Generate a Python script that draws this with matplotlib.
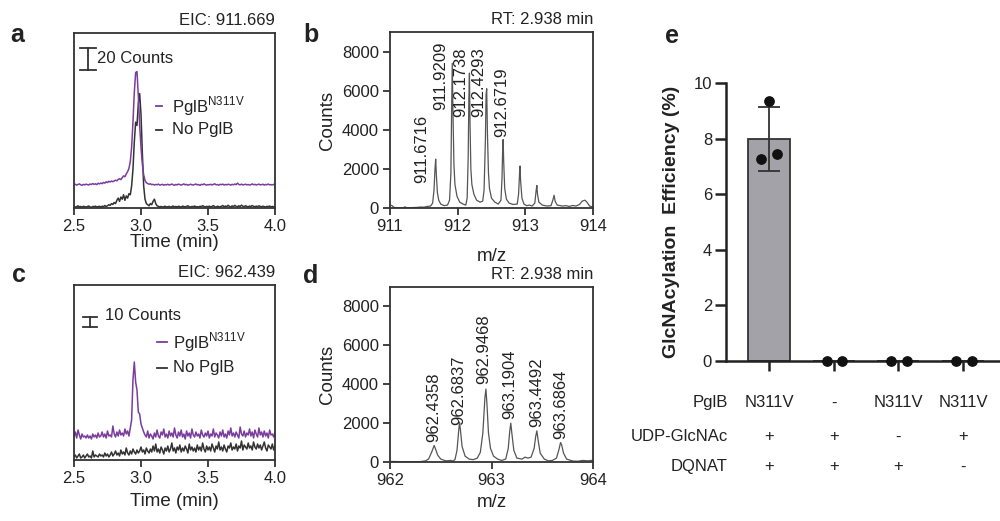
import numpy as np
import matplotlib
matplotlib.use("Agg")
import matplotlib.pyplot as plt

plt.rcParams['font.family'] = ['Liberation Sans', 'DejaVu Sans']
plt.rcParams['mathtext.fontset'] = 'custom'
plt.rcParams['mathtext.rm'] = 'Liberation Sans'

# ---------------- data ----------------
time = np.round(np.arange(2.5, 4.0001, 0.01), 2)

# panel a, EIC 911.669 (counts)
pglb_a = [1.0, 1.6, 0.8, 1.3, 1.9, 1.1, 0.6, 1.5, 1.0, 1.7,
          1.2, 0.9, 1.8, 1.4, 2.2, 1.5, 2.0, 1.3, 2.5, 1.9,
          2.7, 2.1, 3.2, 2.6, 3.8, 3.1, 4.3, 3.6, 4.5, 3.9,
          4.6, 5.3, 4.7, 6.0, 6.6, 5.8, 7.6, 9.2, 8.4, 11.0,
          13.0, 16.0, 22.0, 35.0, 58.0, 85.0, 103.0, 104.0, 82.0, 55.0,
          35.0, 20.0, 10.0, 5.0, 3.0, 2.2, 1.6, 2.0, 1.2, 1.5,
          0.9, 1.4, 1.1, 1.7, 0.8, 1.2, 1.5, 0.7, 1.3, 1.0,
          1.6, 0.9, 1.2, 1.8, 1.1, 0.6, 1.4, 1.0, 1.7, 1.2,
          0.8, 1.3, 1.9, 1.0, 1.5, 0.7, 1.2, 1.6, 1.1, 0.9,
          1.4, 1.8, 1.0, 1.3, 0.6, 1.5, 1.1, 1.9, 1.2, 0.8,
          1.3, 1.0, 1.6, 0.9, 1.4, 2.0, 1.1, 1.3, 0.7, 1.5,
          1.2, 1.7, 0.9, 1.4, 1.0, 1.6, 1.3, 0.8, 1.5, 1.1,
          1.8, 1.2, 2.6, 1.4, 1.0, 1.7, 0.9, 1.3, 1.6, 1.0,
          1.4, 0.8, 1.2, 1.9, 1.1, 1.5, 0.9, 1.3, 1.7, 1.0,
          1.2, 1.6, 0.8, 1.4, 1.1, 1.8, 1.0, 1.3, 0.9, 1.5, 1.2]
nopglb_a = [1.5, 0.8, 1.2, 2.0, 1.0, 1.4, 0.7, 1.6, 1.1, 0.9,
            1.3, 1.8, 1.0, 0.6, 1.4, 1.2, 1.7, 0.9, 1.3, 1.5,
            1.0, 1.6, 1.2, 2.2, 1.4, 2.0, 3.0, 2.4, 4.0, 3.2,
            5.0, 4.0, 7.0, 9.0, 6.0, 10.0, 8.0, 12.0, 7.0, 11.0,
            9.0, 13.0, 12.0, 20.0, 35.0, 60.0, 78.0, 75.0, 95.0, 104.0,
            85.0, 50.0, 20.0, 8.0, 4.0, 3.0, 2.0, 4.0, 3.0, 6.0,
            8.0, 4.0, 2.0, 1.5, 1.0, 1.4, 0.8, 1.2, 1.6, 0.9,
            1.1, 1.5, 0.7, 1.3, 1.8, 1.0, 1.4, 0.9, 1.6, 1.2,
            0.8, 1.7, 1.3, 1.0, 1.5, 2.0, 1.1, 0.9, 1.4, 1.2,
            1.8, 1.0, 1.3, 0.7, 1.6, 1.2, 2.1, 1.4, 0.9, 1.5,
            1.1, 1.7, 1.0, 1.4, 2.2, 1.2, 0.8, 1.6, 1.3, 1.0,
            1.5, 2.3, 1.1, 1.8, 1.2, 2.5, 1.4, 1.0, 1.9, 1.3,
            2.4, 1.5, 1.1, 2.0, 1.3, 2.6, 1.6, 1.2, 2.1, 1.4,
            1.0, 1.8, 1.3, 2.2, 1.5, 1.1, 1.7, 1.2, 2.0, 1.4,
            1.1, 1.6, 1.3, 0.9, 1.5, 1.2, 1.8, 1.0, 1.4, 1.1, 1.3]

# panel c, EIC 962.439 (counts)
pglb_c = [3, 8, 2, 10, 5, 1, 6, 3, 4, 2,
          5, 2, 4, 1, 6, 3, 5, 2, 7, 3,
          4, 8, 3, 6, 2, 9, 4, 5, 3, 14,
          6, 3, 8, 4, 10, 5, 7, 4, 11, 6,
          9, 4, 12, 20, 60, 78, 58, 50, 28, 26,
          16, 12, 8, 5, 3, 9, 2, 6, 4, 1,
          7, 3, 10, 4, 2, 8, 5, 11, 3, 6,
          2, 9, 4, 7, 3, 12, 5, 2, 8, 4,
          10, 3, 6, 1, 9, 4, 7, 2, 11, 5,
          3, 8, 4, 6, 2, 10, 5, 3, 7, 4,
          9, 2, 6, 4, 11, 3, 7, 5, 2, 8,
          4, 10, 3, 6, 2, 9, 5, 12, 4, 7,
          3, 8, 5, 2, 13, 6, 4, 9, 3, 7,
          5, 11, 4, 8, 2, 10, 6, 3, 12, 5,
          8, 3, 9, 4, 7, 2, 10, 5, 6, 3, 8]
nopglb_c = [3, 5, 2, 4, 6, 2, 3, 5, 2, 4,
            6, 3, 4, 2, 9, 3, 5, 4, 3, 6,
            4, 5, 3, 7, 4, 6, 3, 5, 8, 4,
            6, 9, 5, 7, 4, 10, 6, 8, 5, 12,
            7, 5, 9, 6, 11, 8, 6, 10, 7, 9,
            13, 8, 10, 6, 12, 9, 7, 11, 8, 14,
            9, 16, 8, 11, 7, 13, 10, 6, 12, 9,
            14, 8, 11, 17, 9, 12, 7, 13, 10, 15,
            8, 12, 9, 14, 11, 7, 16, 10, 13, 9,
            12, 8, 15, 10, 13, 9, 17, 11, 8, 14,
            10, 13, 9, 16, 12, 8, 14, 11, 18, 10,
            13, 9, 15, 11, 8, 14, 12, 17, 10, 13,
            11, 16, 9, 14, 12, 19, 10, 15, 13, 11,
            17, 12, 14, 10, 18, 13, 11, 16, 12, 15,
            10, 14, 18, 12, 9, 15, 13, 11, 16, 10, 14]

# panel b, mass spectrum at RT 2.938 min
mz_b = [911.00, 911.03, 911.06, 911.10, 911.20, 911.22, 911.25, 911.40, 911.45, 911.50,
        911.55, 911.60, 911.63, 911.65, 911.665, 911.675, 911.685, 911.70, 911.72, 911.75,
        911.80, 911.85, 911.88, 911.90, 911.91, 911.92, 911.93, 911.945, 911.96, 911.99,
        912.03, 912.08, 912.12, 912.14, 912.155, 912.165, 912.174, 912.183, 912.195, 912.21,
        912.24, 912.28, 912.33, 912.37, 912.39, 912.41, 912.42, 912.429, 912.44, 912.455,
        912.47, 912.50, 912.55, 912.60, 912.64, 912.655, 912.665, 912.672, 912.68, 912.695,
        912.72, 912.76, 912.82, 912.88, 912.90, 912.915, 912.922, 912.93, 912.95, 912.98,
        913.02, 913.06, 913.10, 913.14, 913.16, 913.17, 913.18, 913.20, 913.25, 913.32,
        913.38, 913.41, 913.425, 913.44, 913.47, 913.55, 913.60, 913.65, 913.70, 913.75,
        913.80, 913.84, 913.88, 913.91, 913.95, 914.00]
int_b = [150, 120, 30, 20, 10, 60, 10, 30, 50, 40,
         80, 100, 250, 900, 2000, 2500, 1700, 800, 400, 200,
         120, 150, 400, 1800, 4800, 7400, 5000, 2200, 1200, 600,
         300, 200, 150, 500, 2500, 5500, 6900, 4200, 2000, 1200,
         700, 400, 300, 350, 900, 3500, 5800, 6100, 3800, 1800,
         1000, 500, 300, 200, 400, 1500, 3000, 3500, 2400, 1000,
         450, 250, 180, 200, 700, 1800, 2150, 1400, 500, 200,
         120, 150, 100, 250, 900, 1150, 700, 300, 150, 100,
         120, 450, 650, 350, 150, 100, 120, 80, 130, 100,
         180, 350, 400, 300, 100, 50]
peaks_b = ['911.6716', '911.9209', '912.1738', '912.4293', '912.6719']
label_x_b = [911.47, 911.75, 912.05, 912.31, 912.65]
label_y_b = [1260, 5010, 4670, 4670, 3650]

# panel d, mass spectrum at RT 2.938 min
mz_d = [962.00, 962.10, 962.20, 962.30, 962.35, 962.38, 962.41, 962.435, 962.45, 962.47,
        962.50, 962.55, 962.60, 962.62, 962.64, 962.66, 962.675, 962.685, 962.695, 962.71,
        962.74, 962.78, 962.82, 962.86, 962.89, 962.915, 962.935, 962.945, 962.955, 962.97,
        962.99, 963.02, 963.06, 963.10, 963.14, 963.165, 963.18, 963.19, 963.20, 963.22,
        963.25, 963.30, 963.33, 963.36, 963.39, 963.42, 963.435, 963.447, 963.46, 963.48,
        963.52, 963.56, 963.60, 963.64, 963.665, 963.68, 963.69, 963.71, 963.74, 963.80,
        963.85, 963.90, 963.95, 964.00]
int_d = [30, 20, 10, 20, 60, 150, 500, 850, 650, 350,
         150, 60, 80, 50, 120, 600, 1500, 2050, 1600, 800,
         300, 150, 120, 200, 500, 1500, 3300, 3750, 3000, 1500,
         700, 300, 150, 80, 150, 700, 1600, 2000, 1500, 600,
         200, 150, 250, 200, 250, 700, 1300, 1600, 1100, 450,
         150, 60, 80, 200, 650, 1000, 900, 450, 150, 50,
         40, 80, 60, 90]
peaks_d = ['962.4358', '962.6837', '962.9468', '963.1904', '963.4492', '963.6864']
label_x_d = [962.43, 962.673, 962.92, 963.18, 963.445, 963.68]
label_y_d = [1030, 1880, 4020, 2230, 1800, 1200]

# panel e
groups = ['N311V', '-', 'N311V', 'N311V']
udp = ['+', '+', '-', '+']
dqnat = ['+', '+', '+', '-']
eff_mean = [8.0, 0.0, 0.0, 0.0]
eff_sd = [1.15, 0.0, 0.0, 0.0]
eff_points = [[7.25, 9.35, 7.45], [0.0, 0.0], [0.0, 0.0], [0.0, 0.0]]
point_dx = [[-0.13, 0.0, 0.13], [-0.11, 0.13], [-0.11, 0.13], [-0.11, 0.13]]

PURPLE = '#7a3d9e'
DARK = '#333333'
TXT = '#222222'
W, H = 1000, 521

fig = plt.figure(figsize=(10, 5.21), dpi=100)


def box(x0, y0, x1, y1):
    return [x0 / W, 1 - y1 / H, (x1 - x0) / W, (y1 - y0) / H]


def style(ax):
    for s in ax.spines.values():
        s.set_linewidth(1.3)
        s.set_color(DARK)
    ax.tick_params(direction='out', length=5, width=1.3, color=DARK,
                   labelsize=12, labelcolor=TXT, pad=3)


def eic(ax, y_p, y_n, offset, ymax, bar, bar_text, leg, title, lpad):
    ax.plot(time, np.array(y_n), color=DARK, lw=1.1)
    ax.plot(time, np.array(y_p) + offset, color=PURPLE, lw=1.1)
    ax.set_xlim(2.5, 4.0)
    ax.set_ylim(0, ymax)
    ax.set_xticks([2.5, 3.0, 3.5, 4.0])
    ax.set_xticklabels(['2.5', '3.0', '3.5', '4.0'])
    ax.set_yticks([])
    style(ax)
    ax.set_xlabel('Time (min)', fontsize=13.5, labelpad=lpad, color=TXT)
    # scale bar
    bx, by0, by1, cw = bar
    ax.plot([bx, bx], [by0, by1], color=DARK, lw=1.3)
    ax.plot([bx - cw, bx + cw], [by0, by0], color=DARK, lw=1.3)
    ax.plot([bx - cw, bx + cw], [by1, by1], color=DARK, lw=1.3)
    tx, ty, label = bar_text
    ax.text(tx, ty, label, fontsize=12, va='center', ha='left', color=TXT)
    # legend
    lx0, lx1, ltx, ly_p, ly_n = leg
    ax.plot([lx0, lx1], [ly_p, ly_p], color=PURPLE, lw=1.3,
            transform=ax.transAxes)
    ax.plot([lx0, lx1], [ly_n, ly_n], color=DARK, lw=1.3,
            transform=ax.transAxes)
    ax.text(ltx, ly_p, r'PglB$^{\mathrm{N311V}}$', fontsize=12, va='center',
            transform=ax.transAxes, color=TXT)
    ax.text(ltx, ly_n, 'No PglB', fontsize=12, va='center',
            transform=ax.transAxes, color=TXT)
    ax.text(1.0, 1.03, title, fontsize=12, ha='right', va='bottom',
            transform=ax.transAxes, color=TXT)


def spectrum(ax, mz, inten, xlim, ticks, peaks, lx, ly, lpad):
    ax.plot(mz, inten, color='#555555', lw=0.9)
    ax.set_xlim(*xlim)
    ax.set_ylim(0, 9000)
    ax.set_xticks(ticks)
    ax.set_yticks([0, 2000, 4000, 6000, 8000])
    style(ax)
    ax.set_ylabel('Counts', fontsize=13.5, labelpad=4, color=TXT)
    ax.set_xlabel('m/z', fontsize=13.5, labelpad=lpad, color=TXT)
    for p, x, y in zip(peaks, lx, ly):
        ax.text(x, y, p, rotation=90, ha='center', va='bottom', fontsize=12,
                color=TXT)
    ax.text(1.0, 1.03, 'RT: 2.938 min', fontsize=12, ha='right', va='bottom',
            transform=ax.transAxes, color=TXT)


ax_a = fig.add_axes(box(74, 33, 275, 208))
eic(ax_a, pglb_a, nopglb_a, 20, 159, (2.604, 125.5, 145.5, 0.06),
    (2.672, 135.5, '20 Counts'), (0.408, 0.438, 0.488, 0.583, 0.446),
    'EIC: 911.669', 0)

ax_c = fig.add_axes(box(74, 285, 275, 460))
eic(ax_c, pglb_c, nopglb_c, 20, 175, (2.619, 133, 143, 0.05),
    (2.735, 145, '10 Counts'), (0.413, 0.463, 0.493, 0.674, 0.526),
    'EIC: 962.439', 5)

ax_b = fig.add_axes(box(390, 32, 593, 208))
spectrum(ax_b, mz_b, int_b, (911, 914), [911, 912, 913, 914], peaks_b,
         label_x_b, label_y_b, 10)

ax_d = fig.add_axes(box(390, 287, 593, 462))
spectrum(ax_d, mz_d, int_d, (962, 964), [962, 963, 964], peaks_d,
         label_x_d, label_y_d, 4)

# panel e
ax_e = fig.add_axes(box(726, 83, 1000, 361))
xpos = np.arange(len(groups))
ax_e.bar(xpos, eff_mean, width=0.65, color='#a2a2a8', edgecolor=DARK,
         linewidth=1.3, zorder=2)
ax_e.errorbar(xpos[:1], eff_mean[:1], yerr=eff_sd[:1], fmt='none',
              ecolor=DARK, elinewidth=1.3, capsize=8, capthick=1.3, zorder=3)
for i, (pts, dx) in enumerate(zip(eff_points, point_dx)):
    ax_e.scatter(xpos[i] + np.array(dx), pts, s=45, color='#111111',
                 zorder=4, clip_on=False)
ax_e.set_xlim(-0.665, 3.57)
ax_e.set_ylim(0, 10)
ax_e.set_yticks([0, 2, 4, 6, 8, 10])
ax_e.set_xticks(xpos)
ax_e.set_xticklabels([])
ax_e.spines['top'].set_visible(False)
ax_e.spines['right'].set_visible(False)
for s in ['left', 'bottom']:
    ax_e.spines[s].set_linewidth(1.8)
    ax_e.spines[s].set_color(TXT)
ax_e.tick_params(axis='y', direction='out', length=8, width=1.8,
                 labelsize=12, pad=2, color=TXT, labelcolor=TXT)
ax_e.tick_params(axis='x', direction='out', length=7, width=1.8, color=TXT)
ax_e.set_ylabel('GlcNAcylation  Efficiency (%)', fontsize=14,
                fontweight='bold', labelpad=10, color=TXT)

tr = ax_e.get_xaxis_transform()
rows = [('PglB', groups, -0.151), ('UDP-GlcNAc', udp, -0.273),
        ('DQNAT', dqnat, -0.381)]
for name, vals, yy in rows:
    ax_e.text(-0.64, yy, name, transform=tr, ha='right', va='center',
              fontsize=12, color=TXT)
    for x, v in zip(xpos, vals):
        ax_e.text(x, yy, v, transform=tr, ha='center', va='center',
                  fontsize=12, color=TXT)

# panel letters
for letter, x, y in [('a', 10, 42), ('b', 303, 42), ('c', 12, 282),
                     ('d', 303, 283), ('e', 665, 43)]:
    fig.text(x / W, 1 - y / H, letter, fontsize=18, fontweight='bold',
             ha='left', va='baseline', color=TXT)

fig.savefig('out.png', dpi=100, facecolor='white')
